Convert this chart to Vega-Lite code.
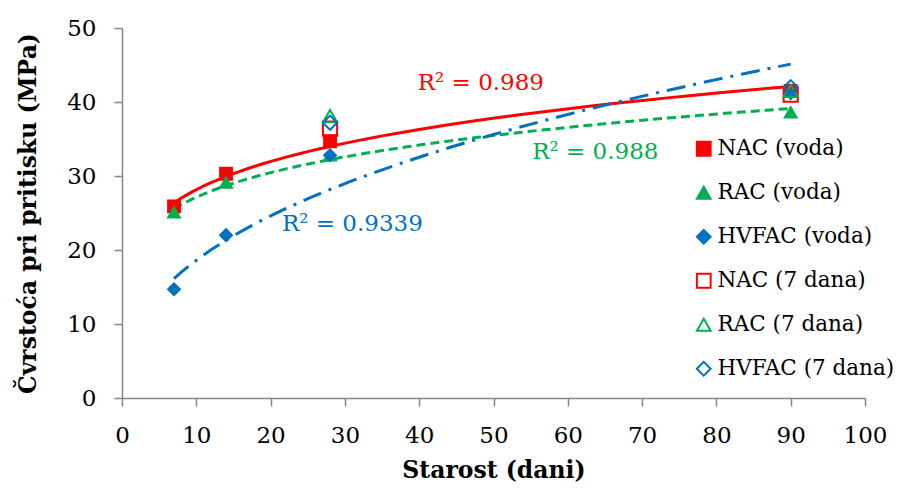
{
  "$schema": "https://vega.github.io/schema/vega-lite/v6.json",
  "width": 743,
  "height": 370,
  "autosize": {"type": "none"},
  "padding": {"left": 122, "top": 28, "right": 36, "bottom": 91},
  "background": "white",
  "config": {
    "view": {"stroke": null},
    "font": "DejaVu Serif",
    "axis": {
      "domainColor": "#868686",
      "domainWidth": 1.5,
      "tickColor": "#868686",
      "tickWidth": 1.5,
      "tickSize": 8,
      "grid": false,
      "labelFlush": false,
      "labelFont": "DejaVu Serif",
      "labelFontSize": 23,
      "labelColor": "#000000",
      "titleFont": "DejaVu Serif",
      "titleFontSize": 23.5,
      "titleFontWeight": "bold",
      "titleColor": "#000000"
    },
    "legend": {
      "labelFont": "DejaVu Serif",
      "labelFontSize": 21.5,
      "labelColor": "#000000",
      "labelLimit": 400,
      "symbolSize": 190,
      "symbolStrokeWidth": 2,
      "rowPadding": 21,
      "labelOffset": 3,
      "padding": 0
    }
  },
  "datasets": {
    "pts": [
      {"s": "NAC (voda)", "g": "voda", "x": 7, "y": 25.9},
      {"s": "NAC (voda)", "g": "voda", "x": 14, "y": 30.3},
      {"s": "NAC (voda)", "g": "voda", "x": 28, "y": 34.7},
      {"s": "NAC (voda)", "g": "voda", "x": 90, "y": 41.5},
      {"s": "RAC (voda)", "g": "voda", "x": 7, "y": 25.1},
      {"s": "RAC (voda)", "g": "voda", "x": 14, "y": 29.1},
      {"s": "RAC (voda)", "g": "voda", "x": 28, "y": 32.8},
      {"s": "RAC (voda)", "g": "voda", "x": 90, "y": 38.6},
      {"s": "HVFAC (voda)", "g": "voda", "x": 7, "y": 14.7},
      {"s": "HVFAC (voda)", "g": "voda", "x": 14, "y": 22.0},
      {"s": "HVFAC (voda)", "g": "voda", "x": 28, "y": 32.8},
      {"s": "HVFAC (voda)", "g": "voda", "x": 90, "y": 41.2},
      {"s": "NAC (7 dana)", "g": "7 dana", "x": 28, "y": 36.4},
      {"s": "NAC (7 dana)", "g": "7 dana", "x": 90, "y": 41.0},
      {"s": "RAC (7 dana)", "g": "7 dana", "x": 28, "y": 38.1},
      {"s": "RAC (7 dana)", "g": "7 dana", "x": 90, "y": 41.5},
      {"s": "HVFAC (7 dana)", "g": "7 dana", "x": 28, "y": 37.2},
      {"s": "HVFAC (7 dana)", "g": "7 dana", "x": 90, "y": 42.0}
    ],
    "r2": [
      {"s": "NAC", "x": 48.3, "y": 42.6, "t": "R² = 0.989"},
      {"s": "RAC", "x": 63.7, "y": 33.2, "t": "R² = 0.988"},
      {"s": "HVFAC", "x": 31.0, "y": 23.5, "t": "R² = 0.9339"}
    ]
  },
  "layer": [
    {
      "data": {"name": "pts"},
      "transform": [
        {"filter": "datum.s === 'NAC (voda)'"},
        {"regression": "y", "on": "x", "method": "pow", "extent": [7, 90]}
      ],
      "mark": {"type": "line", "stroke": "#ff0000", "strokeWidth": 3},
      "encoding": {
        "x": {"field": "x", "type": "quantitative"},
        "y": {"field": "y", "type": "quantitative"}
      }
    },
    {
      "data": {"name": "pts"},
      "transform": [
        {"filter": "datum.s === 'RAC (voda)'"},
        {"regression": "y", "on": "x", "method": "pow", "extent": [7, 90]}
      ],
      "mark": {"type": "line", "stroke": "#00b050", "strokeWidth": 3, "strokeDash": [9, 5]},
      "encoding": {
        "x": {"field": "x", "type": "quantitative"},
        "y": {"field": "y", "type": "quantitative"}
      }
    },
    {
      "data": {"name": "pts"},
      "transform": [
        {"filter": "datum.s === 'HVFAC (voda)'"},
        {"regression": "y", "on": "x", "method": "pow", "extent": [7, 90]}
      ],
      "mark": {"type": "line", "stroke": "#0070c0", "strokeWidth": 3, "strokeDash": [19, 8, 3, 8]},
      "encoding": {
        "x": {"field": "x", "type": "quantitative"},
        "y": {"field": "y", "type": "quantitative"}
      }
    },
    {
      "data": {"name": "pts"},
      "transform": [{"filter": "datum.g === 'voda'"}],
      "mark": {"type": "point", "strokeWidth": 2, "opacity": 1, "size": 140},
      "encoding": {
        "x": {
          "field": "x", "type": "quantitative",
          "scale": {"domain": [0, 100], "nice": false},
          "axis": {"title": "Starost (dani)", "values": [0,10,20,30,40,50,60,70,80,90,100], "labelPadding": 18, "titlePadding": 11}
        },
        "y": {
          "field": "y", "type": "quantitative",
          "scale": {"domain": [0, 50], "nice": false},
          "axis": {"title": "Čvrstoća pri pritisku (MPa)", "values": [0,10,20,30,40,50], "labelPadding": 18, "titlePadding": 26}
        },
        "shape": {
          "field": "s", "type": "nominal",
          "scale": {
            "domain": ["NAC (voda)", "RAC (voda)", "HVFAC (voda)", "NAC (7 dana)", "RAC (7 dana)", "HVFAC (7 dana)"],
            "range": ["square", "triangle-up", "diamond", "square", "triangle-up", "diamond"]
          },
          "legend": {"title": null, "orient": "none", "legendX": 571, "legendY": 110}
        },
        "fill": {
          "field": "s", "type": "nominal",
          "scale": {
            "domain": ["NAC (voda)", "RAC (voda)", "HVFAC (voda)", "NAC (7 dana)", "RAC (7 dana)", "HVFAC (7 dana)"],
            "range": ["#ff0000", "#00b050", "#0070c0", "transparent", "transparent", "transparent"]
          },
          "legend": {"title": null, "orient": "none", "legendX": 571, "legendY": 110}
        },
        "stroke": {
          "field": "s", "type": "nominal",
          "scale": {
            "domain": ["NAC (voda)", "RAC (voda)", "HVFAC (voda)", "NAC (7 dana)", "RAC (7 dana)", "HVFAC (7 dana)"],
            "range": ["#ff0000", "#00b050", "#0070c0", "#ff0000", "#00b050", "#0070c0"]
          },
          "legend": {"title": null, "orient": "none", "legendX": 571, "legendY": 110}
        }
      }
    },
    {
      "data": {"name": "pts"},
      "transform": [{"filter": "datum.g === '7 dana'"}],
      "mark": {"type": "point", "strokeWidth": 2, "opacity": 1, "size": 200},
      "encoding": {
        "x": {"field": "x", "type": "quantitative"},
        "y": {"field": "y", "type": "quantitative"},
        "shape": {"field": "s", "type": "nominal"},
        "fill": {"field": "s", "type": "nominal"},
        "stroke": {"field": "s", "type": "nominal"}
      }
    },
    {
      "data": {"name": "r2"},
      "transform": [{"filter": "datum.s === 'NAC'"}],
      "mark": {"type": "text", "font": "DejaVu Serif", "fontSize": 23, "fill": "#ff0000", "align": "center", "baseline": "middle"},
      "encoding": {
        "x": {"field": "x", "type": "quantitative"},
        "y": {"field": "y", "type": "quantitative"},
        "text": {"field": "t"}
      }
    },
    {
      "data": {"name": "r2"},
      "transform": [{"filter": "datum.s === 'RAC'"}],
      "mark": {"type": "text", "font": "DejaVu Serif", "fontSize": 23, "fill": "#00b050", "align": "center", "baseline": "middle"},
      "encoding": {
        "x": {"field": "x", "type": "quantitative"},
        "y": {"field": "y", "type": "quantitative"},
        "text": {"field": "t"}
      }
    },
    {
      "data": {"name": "r2"},
      "transform": [{"filter": "datum.s === 'HVFAC'"}],
      "mark": {"type": "text", "font": "DejaVu Serif", "fontSize": 23, "fill": "#0070c0", "align": "center", "baseline": "middle"},
      "encoding": {
        "x": {"field": "x", "type": "quantitative"},
        "y": {"field": "y", "type": "quantitative"},
        "text": {"field": "t"}
      }
    }
  ]
}
